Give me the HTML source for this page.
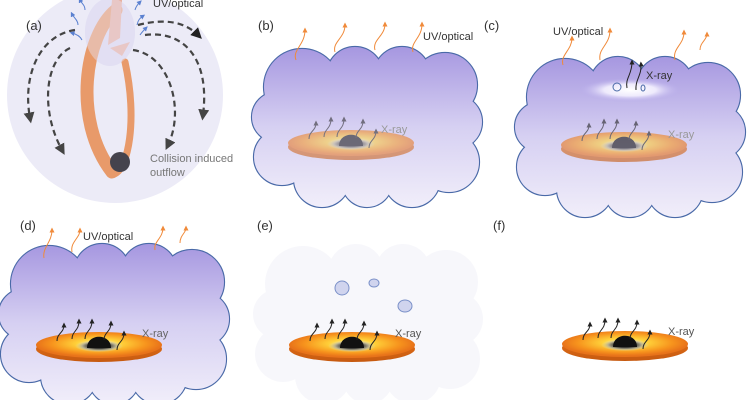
<!DOCTYPE html>
<html><head><meta charset="utf-8"><style>
html,body{margin:0;padding:0;background:#fff;overflow:hidden;}
svg{display:block;font-family:"Liberation Sans",sans-serif;}
</style></head><body>
<svg width="750" height="400" viewBox="0 0 750 400" xmlns="http://www.w3.org/2000/svg">
<defs>
<radialGradient id="dk" cx="0.5" cy="0.45" r="0.5">
 <stop offset="0" stop-color="#fff6b0"/><stop offset="0.35" stop-color="#ffd23a"/><stop offset="0.75" stop-color="#f7941d"/><stop offset="1" stop-color="#e8731a"/></radialGradient>
<linearGradient id="dkside" x1="0" y1="0" x2="0" y2="1"><stop offset="0" stop-color="#e8731a"/><stop offset="1" stop-color="#c65a10"/></linearGradient>
<radialGradient id="ring" cx="0.5" cy="0.5" r="0.5"><stop offset="0.4" stop-color="#333"/><stop offset="0.7" stop-color="#b8b090"/><stop offset="1" stop-color="#f0e6a0" stop-opacity="0"/></radialGradient>
<linearGradient id="cbu" gradientUnits="userSpaceOnUse" x1="0" y1="-80" x2="0" y2="80"><stop offset="0" stop-color="#a697e0"/><stop offset="0.5" stop-color="#d6d0f2"/><stop offset="1" stop-color="#f1eefa"/></linearGradient>
<radialGradient id="hole" cx="0.5" cy="0.5" r="0.5"><stop offset="0" stop-color="#fff"/><stop offset="0.5" stop-color="#eeeafc"/><stop offset="1" stop-color="#b4a8ea" stop-opacity="0"/></radialGradient>
<marker id="ao" viewBox="0 0 10 10" refX="5" refY="5" markerWidth="5" markerHeight="5" orient="auto"><path d="M0,0L10,5L0,10z" fill="#f08a3a"/></marker>
<marker id="ab" viewBox="0 0 10 10" refX="5" refY="5" markerWidth="5" markerHeight="5" orient="auto"><path d="M0,0L10,5L0,10z" fill="#222"/></marker>
<marker id="ag" viewBox="0 0 10 10" refX="5" refY="5" markerWidth="5" markerHeight="5" orient="auto"><path d="M0,0L10,5L0,10z" fill="#444"/></marker>
<marker id="al" viewBox="0 0 10 10" refX="5" refY="5" markerWidth="5" markerHeight="5" orient="auto"><path d="M0,0L10,5L0,10z" fill="#5a80d0"/></marker>
<g id="disk">
 <ellipse cx="0" cy="4" rx="63" ry="13" fill="url(#dkside)"/>
 <ellipse cx="0" cy="0" rx="63" ry="13" fill="url(#dk)"/>
 <ellipse cx="0" cy="1" rx="24" ry="6" fill="url(#ring)"/>
 <path d="M-12,3 C-12,-12 12,-12 12,3 Z" fill="#111"/>
</g>
<g id="xr" fill="none" stroke="#222" stroke-width="1" marker-end="url(#ab)">
 <path d="M-42,-4 C-42,-12 -35,-12 -35,-20"/>
 <path d="M-27,-6 C-27,-14 -20,-14 -20,-24"/>
 <path d="M-14,-6 C-14,-14 -7,-14 -7,-24"/>
 <path d="M5,-5 C5,-13 12,-13 12,-22"/>
 <path d="M18,5 C18,-3 25,-3 25,-12"/>
</g>
<g id="cs">
 <circle cx="-65" cy="-40" r="38"/><circle cx="-12" cy="-52" r="28"/><circle cx="35" cy="-52" r="28"/><circle cx="78" cy="-42" r="32"/>
 <circle cx="88" cy="-5" r="27"/><circle cx="82" cy="35" r="30"/><circle cx="45" cy="52" r="28"/><circle cx="0" cy="55" r="25"/>
 <circle cx="-45" cy="52" r="28"/><circle cx="-85" cy="30" r="28"/><circle cx="-90" cy="-10" r="25"/>
 <ellipse cx="0" cy="0" rx="90" ry="55"/>
</g>
<g id="cloud">
 <use href="#cs" fill="#fff" stroke="#4a6aa8" stroke-width="2.2"/>
 <use href="#cs" fill="url(#cbu)"/>
</g>
</defs>

<!-- (a) -->
<circle cx="115" cy="95" r="108" fill="#ecebf7"/>
<ellipse cx="110" cy="32" rx="25" ry="34" fill="#dcdbf2"/>
<g fill="none" stroke="#e89a6a" stroke-linecap="round">
 <path d="M116,10 C85,35 72,120 112,172" stroke-width="13"/>
 <path d="M114,174 C128,170 138,120 125,62" stroke-width="7"/>
</g>
<path d="M112,0 L122,0 L120,38 L108,45 Z" fill="#e8b0a0"/>
<path d="M110,48 L130,42 L122,56 Z" fill="#e8b0a0"/>
<ellipse cx="110" cy="32" rx="25" ry="34" fill="#e8e4f5" opacity="0.45"/>
<circle cx="120" cy="162" r="10" fill="#45434d"/>
<g fill="none" stroke="#444" stroke-width="2.2" stroke-dasharray="6,4">
 <path d="M75,30 C40,35 22,75 30,118" marker-end="url(#ag)"/>
 <path d="M70,48 C45,60 40,110 62,150" marker-end="url(#ag)"/>
 <path d="M138,25 C165,18 185,22 198,35" marker-end="url(#ab)"/>
 <path d="M145,35 C185,30 210,60 203,115" marker-end="url(#ag)"/>
 <path d="M133,50 C170,55 185,110 168,145" marker-end="url(#ag)"/>
</g>
<g fill="none" stroke="#5a80d0" stroke-width="1" marker-end="url(#al)">
 <path d="M85,10 C85,5 82,4 80,0"/><path d="M78,25 C78,20 74,18 72,14"/><path d="M82,40 C80,36 76,34 72,33"/>
 <path d="M135,10 C136,6 138,4 140,2"/><path d="M137,25 C138,20 140,18 143,16"/><path d="M140,35 C142,32 144,30 146,28"/>
</g>
<text x="153" y="7" font-size="11" fill="#333">UV/optical</text>
<text x="26" y="30" font-size="13" fill="#333">(a)</text>
<text x="150" y="162" font-size="11" fill="#777">Collision induced</text>
<text x="150" y="176" font-size="11" fill="#777">outflow</text>

<!-- (b) -->
<text x="258" y="30" font-size="13" fill="#333">(b)</text>
<use href="#cloud" transform="translate(367,127)"/>
<g fill="none" stroke="#f08a3a" stroke-width="1" marker-end="url(#ao)">
 <path d="M296,60 C292,50 305,45 305,30"/><path d="M335,52 C332,42 345,38 345,25"/><path d="M375,50 C372,40 385,36 385,24"/><path d="M413,52 C410,42 422,38 422,24"/>
</g>
<text x="423" y="40" font-size="11" fill="#333">UV/optical</text>
<g transform="translate(351,143)" opacity="0.55"><use href="#disk"/><use href="#xr" stroke="#555"/></g>
<text x="381" y="133" font-size="11" fill="#999">X-ray</text>

<!-- (c) -->
<text x="484" y="30" font-size="13" fill="#333">(c)</text>
<use href="#cloud" transform="translate(630,137)"/>
<g fill="none" stroke="#f08a3a" stroke-width="1" marker-end="url(#ao)">
 <path d="M563,65 C560,55 572,50 572,38"/><path d="M600,60 C598,48 610,45 610,30"/><path d="M675,60 C672,48 684,45 684,32"/><path d="M700,50 C700,42 707,40 707,34"/>
</g>
<text x="553" y="35" font-size="11" fill="#333">UV/optical</text>
<ellipse cx="630" cy="90" rx="52" ry="12" fill="url(#hole)"/>
<circle cx="617" cy="87" r="4" fill="none" stroke="#4a6aa8"/><ellipse cx="643" cy="88" rx="2" ry="3" fill="none" stroke="#4a6aa8"/>
<g fill="none" stroke="#222" stroke-width="1" marker-end="url(#ab)"><path d="M627,88 C625,78 632,75 632,62"/><path d="M636,90 C635,80 642,75 641,64"/></g>
<text x="646" y="79" font-size="11" fill="#333">X-ray</text>
<g transform="translate(624,145)" opacity="0.6"><use href="#disk"/><use href="#xr" stroke="#555"/></g>
<text x="668" y="138" font-size="11" fill="#999">X-ray</text>

<!-- (d) -->
<text x="20" y="230" font-size="13" fill="#333">(d)</text>
<use href="#cloud" transform="translate(114,324)"/>
<g fill="none" stroke="#f08a3a" stroke-width="1" marker-end="url(#ao)">
 <path d="M44,258 C42,248 52,242 52,230"/><path d="M72,252 C70,242 80,238 80,230"/><path d="M155,250 C153,242 163,238 163,228"/><path d="M180,243 C180,235 186,233 186,228"/>
</g>
<text x="83" y="240" font-size="11" fill="#333">UV/optical</text>
<g transform="translate(99,345)"><use href="#disk"/><use href="#xr" stroke="#444"/></g>
<text x="142" y="337" font-size="11" fill="#666">X-ray</text>

<!-- (e) -->
<text x="257" y="230" font-size="13" fill="#333">(e)</text>
<use href="#cs" fill="#f7f7fb" transform="translate(368,324)"/>
<circle cx="342" cy="288" r="7" fill="#d0d4ee" stroke="#7a90c8" stroke-width="1"/>
<ellipse cx="374" cy="283" rx="5" ry="4" fill="#d0d4ee" stroke="#7a90c8" stroke-width="1"/>
<ellipse cx="405" cy="306" rx="7" ry="6" fill="#d0d4ee" stroke="#7a90c8" stroke-width="1"/>
<g transform="translate(352,345)"><use href="#disk"/><use href="#xr"/></g>
<text x="395" y="337" font-size="11" fill="#555">X-ray</text>

<!-- (f) -->
<text x="493" y="230" font-size="13" fill="#333">(f)</text>
<g transform="translate(625,344)"><use href="#disk"/><use href="#xr"/></g>
<text x="668" y="335" font-size="11" fill="#555">X-ray</text>
</svg>
</body></html>
